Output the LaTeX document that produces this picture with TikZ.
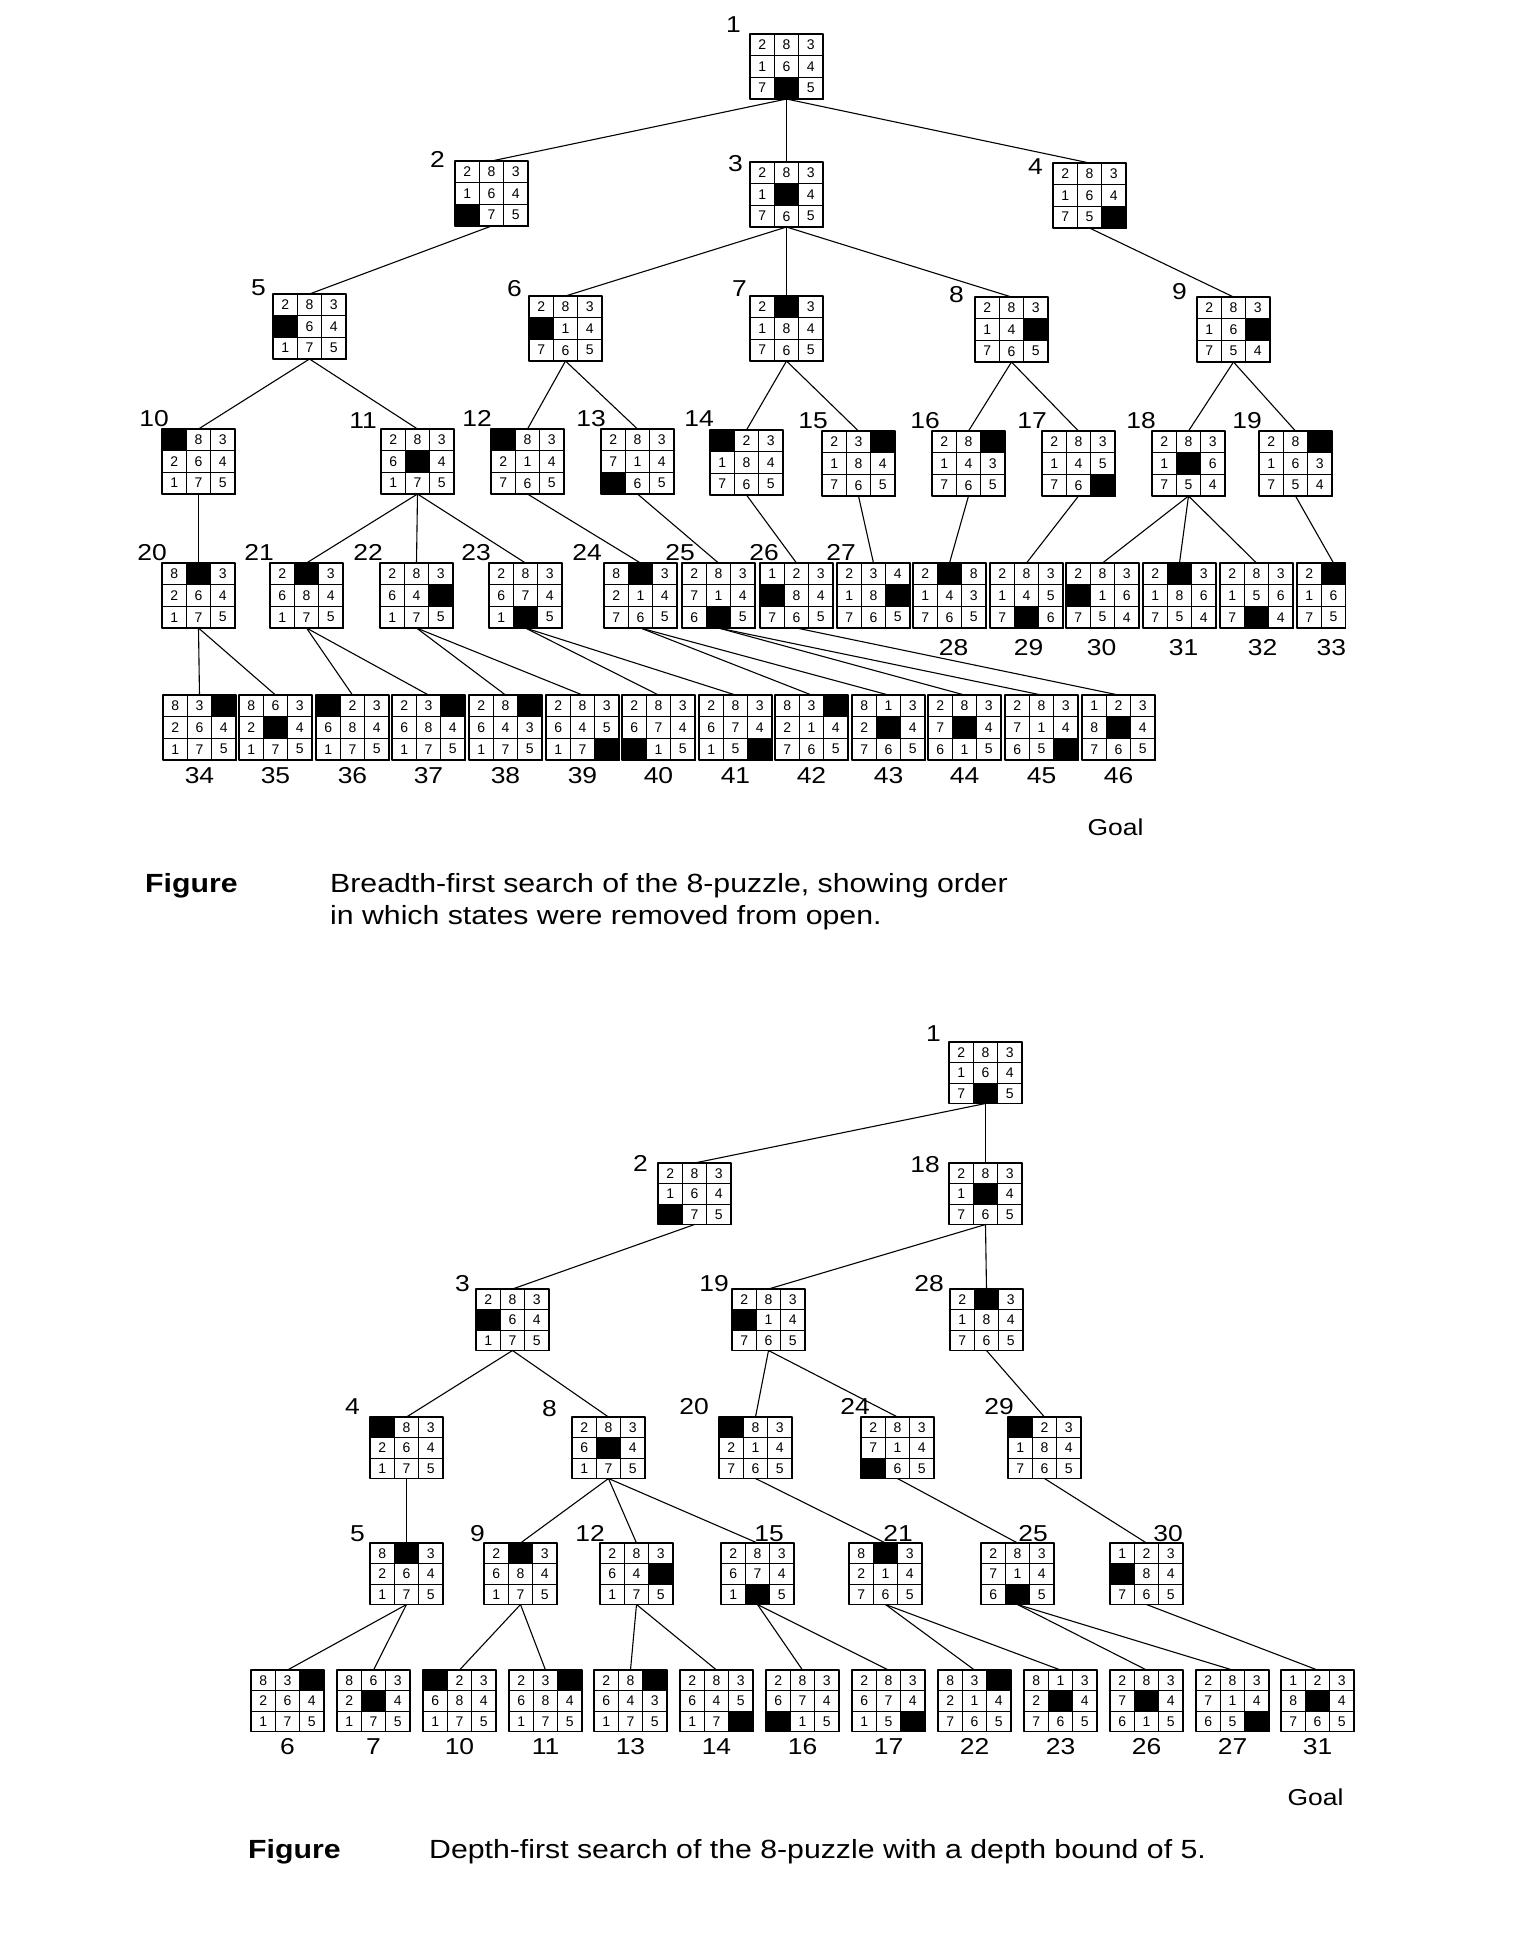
\documentclass[tikz,border=0pt]{standalone}
\usepackage{fontspec}
\setmainfont{Liberation Sans}
\newfontfamily\labfont{Liberation Sans}[FakeStretch=1.15]
\usetikzlibrary{calc}

\newcommand{\cellw}{24.33}
\newcommand{\cellh}{21.67}

\tikzset{
  puzbox/.style={draw, line width=1.6pt, inner sep=0pt, outer sep=0pt,
    anchor=north west, minimum height={3*\cellh*1pt}},
  cellline/.style={line width=0.7pt},
  celltext/.style={font=\fontsize{14}{14}\selectfont, inner sep=0pt},
  num/.style={font=\labfont\fontsize{23}{27}\selectfont, inner sep=0pt},
  captext/.style={font=\labfont\fontsize{26.3}{32}\selectfont, inner sep=0pt, anchor=base west},
  captextb/.style={captext, font=\labfont\bfseries\fontsize{26.3}{32}\selectfont},
  link/.style={line width=1.1pt},
}

% one 8-puzzle state: [visible columns]{name}{north west corner}{cells, 0 = blank, 9 = cut off}
\newcommand{\puz}[4][3]{%
  \node[puzbox, minimum width={#1*\cellw*1pt}] (#2) at (#3) {};
  \foreach \v [count=\k from 0] in {#4} {%
    \pgfmathtruncatemacro{\prow}{div(\k,3)}%
    \pgfmathtruncatemacro{\pcol}{mod(\k,3)}%
    \ifnum\v=9 \else
      \draw[cellline] ($(#2.north west)+(\pcol*\cellw,\prow*\cellh)$) rectangle +(\cellw,\cellh);
      \ifnum\v=0
        \fill ($(#2.north west)+(\pcol*\cellw,\prow*\cellh)$) rectangle +(\cellw,\cellh);
      \else
        \node[celltext] at ($(#2.north west)+(\pcol*\cellw+\cellw/2,\prow*\cellh+\cellh/2)$) {\v};
      \fi
    \fi
  }%
}

\begin{document}
\begin{tikzpicture}[x=1pt,y=-1pt,line cap=round,line join=round]
  \path[use as bounding box, fill=white] (0,0) rectangle (1534,1952);

  % breadth-first search
  \puz{b1}{750,34}{2,8,3,1,6,4,7,0,5}
  \puz{b2}{455,161}{2,8,3,1,6,4,0,7,5}
  \puz{b3}{750,162}{2,8,3,1,0,4,7,6,5}
  \puz{b4}{1053,163}{2,8,3,1,6,4,7,5,0}
  \puz{b5}{273,294}{2,8,3,0,6,4,1,7,5}
  \puz{b6}{529,296}{2,8,3,0,1,4,7,6,5}
  \puz{b7}{750,296}{2,0,3,1,8,4,7,6,5}
  \puz{b8}{975,297}{2,8,3,1,4,0,7,6,5}
  \puz{b9}{1197,297}{2,8,3,1,6,0,7,5,4}
  \puz{b10}{162,429}{0,8,3,2,6,4,1,7,5}
  \puz{b11}{381,429}{2,8,3,6,0,4,1,7,5}
  \puz{b12}{491,429}{0,8,3,2,1,4,7,6,5}
  \puz{b13}{601,429}{2,8,3,7,1,4,0,6,5}
  \puz{b14}{710,430}{0,2,3,1,8,4,7,6,5}
  \puz{b15}{822,431}{2,3,0,1,8,4,7,6,5}
  \puz{b16}{932,431}{2,8,0,1,4,3,7,6,5}
  \puz{b17}{1042,431}{2,8,3,1,4,5,7,6,0}
  \puz{b18}{1152,431}{2,8,3,1,0,6,7,5,4}
  \puz{b19}{1259,431}{2,8,0,1,6,3,7,5,4}
  \puz{b20}{162,563}{8,0,3,2,6,4,1,7,5}
  \puz{b21}{270,563}{2,0,3,6,8,4,1,7,5}
  \puz{b22}{380,563}{2,8,3,6,4,0,1,7,5}
  \puz{b23}{489,563}{2,8,3,6,7,4,1,0,5}
  \puz{b24}{604,563}{8,0,3,2,1,4,7,6,5}
  \puz{b25}{682,563}{2,8,3,7,1,4,6,0,5}
  \puz{b26}{760,563}{1,2,3,0,8,4,7,6,5}
  \puz{b27}{837,563}{2,3,4,1,8,0,7,6,5}
  \puz{b28}{913,563}{2,0,8,1,4,3,7,6,5}
  \puz{b29}{990,563}{2,8,3,1,4,5,7,0,6}
  \puz{b30}{1066,563}{2,8,3,0,1,6,7,5,4}
  \puz{b31}{1143,563}{2,0,3,1,8,6,7,5,4}
  \puz{b32}{1220,563}{2,8,3,1,5,6,7,0,4}
  \puz[2]{b33}{1297,563}{2,0,9,1,6,9,7,5,9}
  \puz{b34}{163,695}{8,3,0,2,6,4,1,7,5}
  \puz{b35}{239,695}{8,6,3,2,0,4,1,7,5}
  \puz{b36}{316,695}{0,2,3,6,8,4,1,7,5}
  \puz{b37}{392,695}{2,3,0,6,8,4,1,7,5}
  \puz{b38}{469,695}{2,8,0,6,4,3,1,7,5}
  \puz{b39}{546,695}{2,8,3,6,4,5,1,7,0}
  \puz{b40}{622,695}{2,8,3,6,7,4,0,1,5}
  \puz{b41}{699,695}{2,8,3,6,7,4,1,5,0}
  \puz{b42}{775,695}{8,3,0,2,1,4,7,6,5}
  \puz{b43}{852,695}{8,1,3,2,0,4,7,6,5}
  \puz{b44}{928,695}{2,8,3,7,0,4,6,1,5}
  \puz{b45}{1005,695}{2,8,3,7,1,4,6,5,0}
  \puz{b46}{1082,695}{1,2,3,8,0,4,7,6,5}

  \foreach \p/\q in {1/2,1/3,1/4,2/5,3/6,3/7,3/8,4/9,5/10,5/11,6/12,6/13,7/14,7/15,
      8/16,8/17,9/18,9/19,10/20,11/21,11/22,11/23,12/24,13/25,14/26,15/27,16/28,
      17/29,18/30,18/31,18/32,20/34,20/35,21/36,21/37,22/38,22/39,23/40,23/41,
      24/42,24/43,25/44,25/45,26/46}
    \draw[link] (b\p.south) -- (b\q.north);
  \draw[link] (b19.south) -- ($(b33.north)!0.5!(b33.north east)$);

  \node[num, anchor=south east] (lb1) at ($(b1.north west)+(-9,-1)$) {1};
  \node[num, anchor=south east] (lb2) at ($(b2.north west)+(-10,7)$) {2};
  \node[num, anchor=south east] (lb3) at ($(b3.north west)+(-7,10)$) {3};
  \node[num, anchor=south east] (lb4) at ($(b4.north west)+(-10,12)$) {4};
  \node[num, anchor=south east] (lb5) at ($(b5.north west)+(-7,2)$) {5};
  \node[num, anchor=south east] (lb6) at ($(b6.north west)+(-7,1)$) {6};
  \node[num, anchor=south east] (lb7) at ($(b7.north west)+(-3,1)$) {7};
  \node[num, anchor=south east] (lb8) at ($(b8.north west)+(-11,6)$) {8};
  \node[num, anchor=south east] (lb9) at ($(b9.north west)+(-10,3)$) {9};
  \node[num, anchor=south east] (lb10) at ($(b10.north west)+(7,-2)$) {10};
  \node[num, anchor=south east] (lb11) at ($(b11.north west)+(-4,0)$) {11};
  \node[num, anchor=south east] (lb12) at ($(b12.north west)+(1,-2)$) {12};
  \node[num, anchor=south east] (lb13) at ($(b13.north west)+(5,-2)$) {13};
  \node[num, anchor=south east] (lb14) at ($(b14.north west)+(4,-3)$) {14};
  \node[num, anchor=south east] (lb15) at ($(b15.north west)+(6,-2)$) {15};
  \node[num, anchor=south east] (lb16) at ($(b16.north west)+(8,-2)$) {16};
  \node[num, anchor=south east] (lb17) at ($(b17.north west)+(5,-2)$) {17};
  \node[num, anchor=south east] (lb18) at ($(b18.north west)+(4,-2)$) {18};
  \node[num, anchor=south east] (lb19) at ($(b19.north west)+(3,-2)$) {19};
  \node[num, anchor=south east] (lb20) at ($(b20.north west)+(5,-2)$) {20};
  \node[num, anchor=south east] (lb21) at ($(b21.north west)+(4,-2)$) {21};
  \node[num, anchor=south east] (lb22) at ($(b22.north west)+(3,-2)$) {22};
  \node[num, anchor=south east] (lb23) at ($(b23.north west)+(2,-2)$) {23};
  \node[num, anchor=south east] (lb24) at ($(b24.north west)+(-2,-2)$) {24};
  \node[num, anchor=south east] (lb25) at ($(b25.north west)+(13,-2)$) {25};
  \node[num, anchor=south east] (lb26) at ($(b26.north west)+(19,-2)$) {26};
  \node[num, anchor=south east] (lb27) at ($(b27.north west)+(19,-2)$) {27};
  \node[num, anchor=north] (lb28) at ($(b28.south)+(4,11)$) {28};
  \node[num, anchor=north] (lb29) at ($(b29.south)+(2,11)$) {29};
  \node[num, anchor=north] (lb30) at ($(b30.south)+(-1,11)$) {30};
  \node[num, anchor=north] (lb31) at ($(b31.south)+(4,11)$) {31};
  \node[num, anchor=north] (lb32) at ($(b32.south)+(6,11)$) {32};
  \node[num, anchor=north] (lb33) at ($(b33.south)+(10,11)$) {33};
  \foreach \q in {34,...,46}
    \node[num, anchor=north] (lb\q) at ($(b\q.south)+(0,7)$) {\q};
  \node[num, anchor=north] (goal1) at ($(lb46.south)+(-3,35)$) {Goal};

  \node[captextb] (fig1) at (145,892) {Figure};
  \node[captext] (cap1a) at (330,892) {Breadth-first search of the 8-puzzle, showing order};
  \node[captext] (cap1b) at ($(cap1a.base west)+(0,32)$) {in which states were removed from open.};

  % depth-first search, depth bound 5
  \begin{scope}
  \renewcommand{\cellh}{20.5}
  \puz{d1}{949,1042}{2,8,3,1,6,4,7,0,5}
  \puz{d2}{658,1163}{2,8,3,1,6,4,0,7,5}
  \puz{d18}{949,1163}{2,8,3,1,0,4,7,6,5}
  \puz{d3}{476,1289}{2,8,3,0,6,4,1,7,5}
  \puz{d19}{732,1289}{2,8,3,0,1,4,7,6,5}
  \puz{d28}{950,1289}{2,0,3,1,8,4,7,6,5}
  \puz{d4}{370,1417}{0,8,3,2,6,4,1,7,5}
  \puz{d8}{572,1417}{2,8,3,6,0,4,1,7,5}
  \puz{d20}{719,1417}{0,8,3,2,1,4,7,6,5}
  \puz{d24}{861,1417}{2,8,3,7,1,4,0,6,5}
  \puz{d29}{1008,1417}{0,2,3,1,8,4,7,6,5}
  \puz{d5}{370,1543}{8,0,3,2,6,4,1,7,5}
  \puz{d9}{484,1543}{2,0,3,6,8,4,1,7,5}
  \puz{d12}{600,1543}{2,8,3,6,4,0,1,7,5}
  \puz{d15}{721,1543}{2,8,3,6,7,4,1,0,5}
  \puz{d21}{849,1543}{8,0,3,2,1,4,7,6,5}
  \puz{d25}{981,1543}{2,8,3,7,1,4,6,0,5}
  \puz{d30}{1110,1543}{1,2,3,0,8,4,7,6,5}
  \puz{d6}{251,1670}{8,3,0,2,6,4,1,7,5}
  \puz{d7}{337,1670}{8,6,3,2,0,4,1,7,5}
  \puz{d10}{423,1670}{0,2,3,6,8,4,1,7,5}
  \puz{d11}{509,1670}{2,3,0,6,8,4,1,7,5}
  \puz{d13}{594,1670}{2,8,0,6,4,3,1,7,5}
  \puz{d14}{680,1670}{2,8,3,6,4,5,1,7,0}
  \puz{d16}{766,1670}{2,8,3,6,7,4,0,1,5}
  \puz{d17}{852,1670}{2,8,3,6,7,4,1,5,0}
  \puz{d22}{938,1670}{8,3,0,2,1,4,7,6,5}
  \puz{d23}{1024,1670}{8,1,3,2,0,4,7,6,5}
  \puz{d26}{1110,1670}{2,8,3,7,0,4,6,1,5}
  \puz{d27}{1196,1670}{2,8,3,7,1,4,6,5,0}
  \puz{d31}{1281,1670}{1,2,3,8,0,4,7,6,5}
  \end{scope}

  \foreach \p/\q in {1/2,1/18,2/3,18/19,18/28,3/4,3/8,19/20,19/24,28/29,4/5,8/9,
      8/12,8/15,20/21,24/25,29/30,5/6,5/7,9/10,9/11,12/13,12/14,15/16,15/17,
      21/22,21/23,25/26,25/27,30/31}
    \draw[link] (d\p.south) -- (d\q.north);

  \node[num, anchor=south east] (ld1) at ($(d1.north west)+(-8,0)$) {1};
  \node[num, anchor=south east] (ld2) at ($(d2.north west)+(-10,9)$) {2};
  \node[num, anchor=south east] (ld18) at ($(d18.north west)+(-9,10)$) {18};
  \node[num, anchor=south east] (ld3) at ($(d3.north west)+(-6,3)$) {3};
  \node[num, anchor=south east] (ld19) at ($(d19.north west)+(-3,3)$) {19};
  \node[num, anchor=south east] (ld28) at ($(d28.north west)+(-6,3)$) {28};
  \node[num, anchor=south east] (ld4) at ($(d4.north west)+(-10,-2)$) {4};
  \node[num, anchor=south east] (ld8) at ($(d8.north west)+(-15,0)$) {8};
  \node[num, anchor=south east] (ld20) at ($(d20.north west)+(-10,-2)$) {20};
  \node[num, anchor=south east] (ld24) at ($(d24.north west)+(9,-2)$) {24};
  \node[num, anchor=south east] (ld29) at ($(d29.north west)+(6,-2)$) {29};
  \node[num, anchor=south east] (ld5) at ($(d5.north west)+(-5,-1)$) {5};
  \node[num, anchor=south east] (ld9) at ($(d9.north west)+(1,-1)$) {9};
  \node[num, anchor=south east] (ld12) at ($(d12.north west)+(5,-1)$) {12};
  \node[num, anchor=south east] (ld15) at ($(d15.north east)+(-10,-1)$) {15};
  \node[num, anchor=south east] (ld21) at ($(d21.north east)+(-9,-1)$) {21};
  \node[num, anchor=south east] (ld25) at ($(d25.north east)+(-6,-1)$) {25};
  \node[num, anchor=south east] (ld30) at ($(d30.north east)+(0,-1)$) {30};
  \foreach \q in {6,7,10,11,13,14,16,17,22,23,26,27,31}
    \node[num, anchor=north] (ld\q) at ($(d\q.south)+(0,7)$) {\q};
  \node[num, anchor=north] (goal2) at ($(ld31.south)+(-2,33)$) {Goal};

  \node[captextb] (fig2) at (248,1858) {Figure};
  \node[captext] (cap2) at (429,1858) {Depth-first search of the 8-puzzle with a depth bound of 5.};
\end{tikzpicture}
\end{document}
